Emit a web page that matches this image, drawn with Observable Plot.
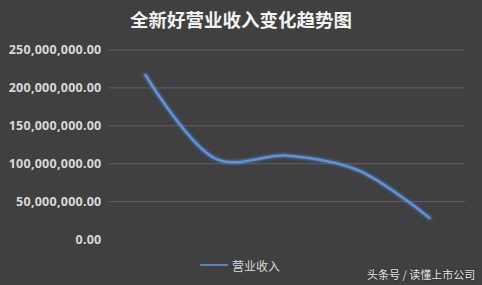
<!DOCTYPE html>
<html>
<head>
<meta charset="utf-8">
<script src="https://cdn.jsdelivr.net/npm/d3@7"></script>
<script src="https://cdn.jsdelivr.net/npm/@observablehq/plot@0.6"></script>
<style>
  html, body { margin: 0; padding: 0; background: #404040; }
  #wrap { position: relative; width: 482px; height: 285px; background: #404040; overflow: hidden; font-family: "Noto Sans CJK SC", "Noto Sans", sans-serif; }
  #title { position: absolute; left: 0; width: 482px; top: 7px; text-align: center; color: #f2f2f2; font-size: 18.5px; font-weight: bold; line-height: 24px; }
  #legend { position: absolute; left: 200px; top: 256px; height: 18px; display: flex; align-items: center; color: #d9d9d9; font-size: 12px; }
  #legend .sw { width: 28px; height: 2.5px; background: #5b84bd; margin-right: 4px; border-radius: 1px; }
  #mark { position: absolute; left: 367px; top: 266px; color: #e6e6e6; font-size: 11px; line-height: 16px; text-shadow: 0 0 2px rgba(0,0,0,0.6); }
  #plot { position: absolute; left: 0; top: 0; }
  #plot svg g[aria-label="y-axis tick label"] text { letter-spacing: 0.25px; }
</style>
</head>
<body>
<div id="wrap">
  <div id="plot"></div>
  <div id="title">全新好营业收入变化趋势图</div>
  <div id="legend"><span class="sw"></span><span>营业收入</span></div>
  <div id="mark">头条号 / 读懂上市公司</div>
</div>
<script>
const periods = ["2013", "2014", "2015", "2016", "2017"];
const revenue = [217000000, 106000000, 110500000, 91000000, 28500000];
const yTicks = [0, 50000000, 100000000, 150000000, 200000000, 250000000];
const seriesName = "营业收入";

const data = periods.map((p, i) => ({period: p, value: revenue[i], series: seriesName}));

const chart = Plot.plot({
  width: 482,
  height: 285,
  marginLeft: 109,
  marginRight: 17,
  marginTop: 49.5,
  marginBottom: 46,
  style: {background: "transparent", color: "#d9d9d9", fontFamily: "'Noto Sans', sans-serif", overflow: "visible"},
  x: {type: "point", domain: periods, padding: 0.5, axis: null},
  y: {domain: [0, 250000000], ticks: yTicks, tickFormat: d3.format(",.2f"), label: null, tickSize: 0, tickPadding: 8},
  marks: [
    Plot.ruleY(yTicks.filter(d => d > 0), {stroke: "#606060", strokeWidth: 1}),
    Plot.axisY({ticks: yTicks, tickFormat: d3.format(",.2f"), tickSize: 0, tickPadding: 8, label: null, fontSize: 12.5, fontWeight: "bold", fill: "#d9d9d9"}),
    Plot.line(data, {x: "period", y: "value", curve: "catmull-rom", stroke: "#4f86d4", strokeWidth: 7, strokeOpacity: 0.18}),
    Plot.line(data, {x: "period", y: "value", curve: "catmull-rom", stroke: "#4f86d4", strokeWidth: 4.5, strokeOpacity: 0.25}),
    Plot.line(data, {x: "period", y: "value", curve: "catmull-rom", stroke: "#5f93d8", strokeWidth: 2.5})
  ]
});
document.getElementById("plot").appendChild(chart);
</script>
</body>
</html>
